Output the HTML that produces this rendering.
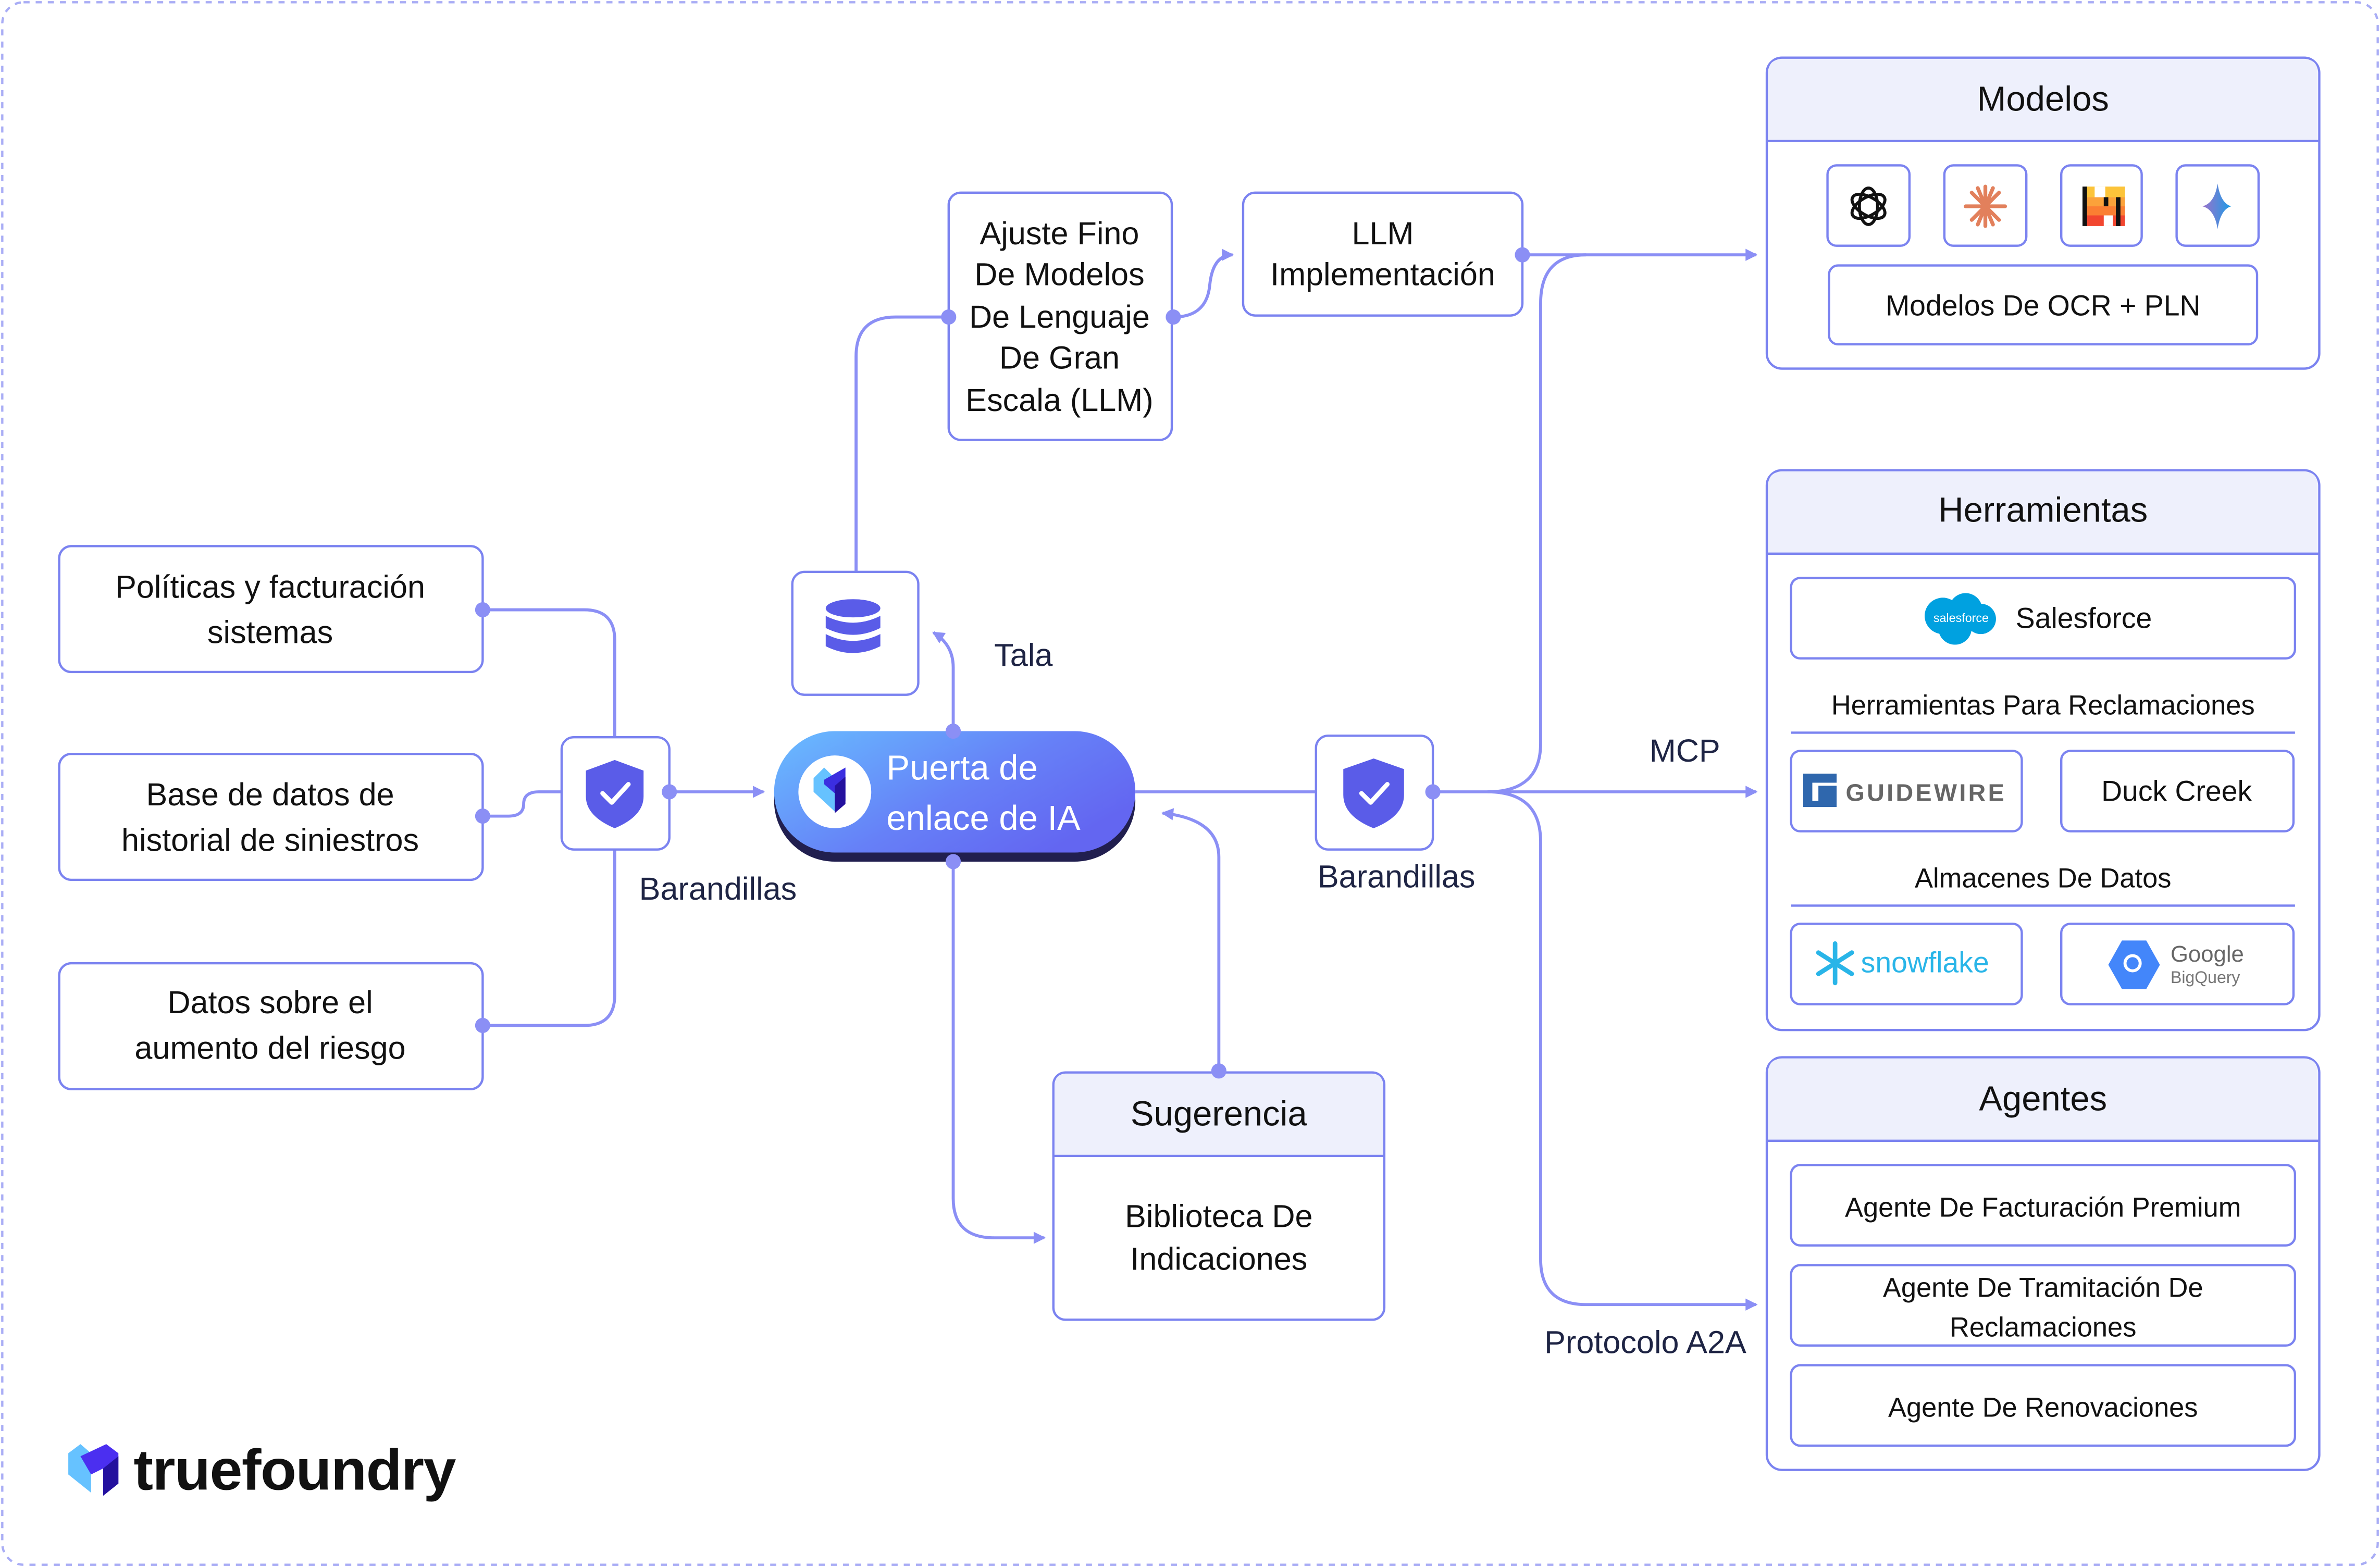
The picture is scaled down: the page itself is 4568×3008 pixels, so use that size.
<!DOCTYPE html>
<html><head><meta charset="utf-8"><style>
html,body{margin:0;padding:0;background:#fff;}
svg{display:block;}
text{font-family:"Liberation Sans",sans-serif;fill:#111;}
</style></head><body>
<svg width="4568" height="3008" viewBox="0 0 1568 1033" preserveAspectRatio="none" xmlns="http://www.w3.org/2000/svg">
<defs>
<linearGradient id="gw" x1="0" y1="0" x2="1" y2="0.6">
<stop offset="0" stop-color="#68bdff"/><stop offset="0.6" stop-color="#6680f7"/><stop offset="1" stop-color="#6366f1"/></linearGradient>
<linearGradient id="gem" x1="0" y1="0" x2="1" y2="0"><stop offset="0" stop-color="#9b72cb"/><stop offset="1" stop-color="#1c9ce6"/></linearGradient>
<marker id="ar" viewBox="0 0 10 10" refX="8" refY="5" markerWidth="10" markerHeight="10" markerUnits="userSpaceOnUse" orient="auto"><path d="M1,1 L9,5 L1,9 Z" fill="#8b8ff5"/></marker>
</defs>
<rect x="1.5" y="1.5" width="1565" height="1030" rx="14" fill="#fff" stroke="#a9adf5" stroke-width="1.5" stroke-dasharray="4 4"/>

<g fill="none" stroke="#8b8ff5" stroke-width="2">
<path d="M318,402 H385 Q405,402 405,422 V486"/>
<path d="M318,538 H335 Q345,538 345,530 Q345,522 355,522 H370"/>
<path d="M318,676 H385 Q405,676 405,656 V560"/>
<path d="M441,522 H503" marker-end="url(#ar)"/>
<path d="M564,377 V235 Q564,209 590,209 H625"/>
<path d="M628,482 V440 Q628,425 615,417" marker-end="url(#ar)"/>
<path d="M773,209 Q795,209 797,188 Q799,168 812,168" marker-end="url(#ar)"/>
<path d="M1003,168 H1157" marker-end="url(#ar)"/>
<path d="M748,522 H867"/>
<path d="M944,522 H1157" marker-end="url(#ar)"/>
<path d="M980,522 Q1015,522 1015,490 V200 Q1015,168 1045,168"/>
<path d="M980,522 Q1015,522 1015,555 V830 Q1015,860 1045,860 H1157" marker-end="url(#ar)"/>
<path d="M628,568 V790 Q628,816 655,816 H688" marker-end="url(#ar)"/>
<path d="M803,706 V565 Q803,540 766,536" marker-end="url(#ar)"/>
</g>

<g fill="#fff" stroke="#7b83f0" stroke-width="1.5">
<rect x="39" y="360" width="279" height="83" rx="8"/>
<rect x="39" y="497" width="279" height="83" rx="8"/>
<rect x="39" y="635" width="279" height="83" rx="8"/>
<rect x="370" y="486" width="71" height="74" rx="8"/>
<rect x="867" y="485" width="77" height="75" rx="8"/>
<rect x="522" y="377" width="83" height="81" rx="8"/>
<rect x="625" y="127" width="147" height="163" rx="8"/>
<rect x="819" y="127" width="184" height="81" rx="8"/>
</g>
<g font-size="21" text-anchor="middle">
<text x="178" y="394">Políticas y facturación</text><text x="178" y="424">sistemas</text>
<text x="178" y="531">Base de datos de</text><text x="178" y="561">historial de siniestros</text>
<text x="178" y="668">Datos sobre el</text><text x="178" y="698">aumento del riesgo</text>
<text x="698" y="161">Ajuste Fino</text><text x="698" y="188">De Modelos</text><text x="698" y="216">De Lenguaje</text><text x="698" y="243">De Gran</text><text x="698" y="271">Escala (LLM)</text>
<text x="911" y="161">LLM</text><text x="911" y="188">Implementación</text>
</g>
<g font-size="21">
<text x="473" y="593" text-anchor="middle" style="fill:#1e2444">Barandillas</text>
<text x="920" y="585" text-anchor="middle" style="fill:#1e2444">Barandillas</text>
<text x="655" y="439" style="fill:#1e2444">Tala</text>
<text x="1110" y="502" text-anchor="middle" style="fill:#1e2444">MCP</text>
<text x="1084" y="892" text-anchor="middle" style="fill:#1e2444">Protocolo A2A</text>
</g>
<!-- shields -->
<g fill="#5a5ce8">
<path d="M405,501 L424,508 V525 Q424,538 405,546 Q386,538 386,525 V508 Z"/>
<path d="M905,500 L925,507 V524 Q925,538 905,546 Q885,538 885,524 V507 Z"/>
</g>
<g fill="none" stroke="#fff" stroke-width="3" stroke-linecap="round" stroke-linejoin="round">
<path d="M397,523 L403,529 L414,517"/><path d="M897,523 L903,529 L914,517"/>
</g>
<!-- db -->
<g fill="#5a5ce8">
<ellipse cx="562" cy="401" rx="18" ry="6"/>
<path d="M544,406 Q562,415 580,406 V414 Q562,423 544,414 Z"/>
<path d="M544,418 Q562,427 580,418 V426 Q562,435 544,426 Z"/>
</g>
<!-- gateway -->
<rect x="510" y="488" width="238" height="80" rx="40" fill="#211f4f"/>
<rect x="510" y="482" width="238" height="80" rx="40" fill="url(#gw)"/>
<circle cx="550" cy="522" r="24" fill="#fff"/>
<path d="M536,513 L543,506 L550,513 L550,535 L536,522 Z" fill="#66c2ff"/>
<path d="M543,514 L557,506 L557,528 L550,535 L550,523 L543,517 Z" fill="#3b2ee0"/>
<path d="M550,518 L557,512 V530 L550,536Z" fill="#24119e"/>
<text x="584" y="514" font-size="23" style="fill:#fff">Puerta de</text>
<text x="584" y="547" font-size="23" style="fill:#fff">enlace de IA</text>

<!-- dots (on top) -->
<g fill="#8b8ff5">
<circle cx="318" cy="402" r="5"/><circle cx="318" cy="538" r="5"/><circle cx="318" cy="676" r="5"/>
<circle cx="441" cy="522" r="5"/><circle cx="625" cy="209" r="5"/><circle cx="773" cy="209" r="5"/>
<circle cx="1003" cy="168" r="5"/><circle cx="944" cy="522" r="5"/><circle cx="628" cy="482" r="5"/>
<circle cx="628" cy="568" r="5"/>
</g>

<!-- sugerencia -->
<rect x="694" y="707" width="218" height="163" rx="8" fill="#fff" stroke="#7b83f0" stroke-width="1.5"/>
<path d="M695,762 V715 Q695,708 702,708 H904 Q911,708 911,715 V762 Z" fill="#eef0fc"/>
<line x1="694" y1="762" x2="912" y2="762" stroke="#7b83f0" stroke-width="1.5"/>
<circle cx="803" cy="706" r="5" fill="#8b8ff5"/>
<text x="803" y="742" font-size="23" text-anchor="middle">Sugerencia</text>
<text x="803" y="809" font-size="21" text-anchor="middle">Biblioteca De</text>
<text x="803" y="837" font-size="21" text-anchor="middle">Indicaciones</text>

<!-- panels -->
<g stroke="#7b83f0" stroke-width="1.5">
<rect x="1164" y="38" width="364" height="205" rx="10" fill="#fff"/>
<path d="M1165,93 V48 Q1165,39 1174,39 H1518 Q1527,39 1527,48 V93 Z" fill="#eef0fc" stroke="none"/>
<line x1="1164" y1="93" x2="1528" y2="93"/>
<rect x="1164" y="310" width="364" height="369" rx="10" fill="#fff"/>
<path d="M1165,365 V320 Q1165,311 1174,311 H1518 Q1527,311 1527,320 V365 Z" fill="#eef0fc" stroke="none"/>
<line x1="1164" y1="365" x2="1528" y2="365"/>
<rect x="1164" y="697" width="364" height="272" rx="10" fill="#fff"/>
<path d="M1165,752 V707 Q1165,698 1174,698 H1518 Q1527,698 1527,707 V752 Z" fill="#eef0fc" stroke="none"/>
<line x1="1164" y1="752" x2="1528" y2="752"/>
<g fill="#fff">
<rect x="1204" y="109" width="54" height="53" rx="6"/><rect x="1281" y="109" width="54" height="53" rx="6"/>
<rect x="1358" y="109" width="53" height="53" rx="6"/><rect x="1434" y="109" width="54" height="53" rx="6"/>
<rect x="1205" y="175" width="282" height="52" rx="6"/>
<rect x="1180" y="381" width="332" height="53" rx="6"/>
<rect x="1180" y="495" width="152" height="53" rx="6"/><rect x="1358" y="495" width="153" height="53" rx="6"/>
<rect x="1180" y="609" width="152" height="53" rx="6"/><rect x="1358" y="609" width="153" height="53" rx="6"/>
<rect x="1180" y="768" width="332" height="53" rx="6"/><rect x="1180" y="834" width="332" height="53" rx="6"/><rect x="1180" y="900" width="332" height="53" rx="6"/>
</g>
<line x1="1180" y1="483" x2="1512" y2="483"/><line x1="1180" y1="597" x2="1512" y2="597"/>
</g>
<g text-anchor="middle">
<text x="1346" y="73" font-size="23">Modelos</text>
<text x="1346" y="344" font-size="23">Herramientas</text>
<text x="1346" y="732" font-size="23">Agentes</text>
<text x="1346" y="208" font-size="19">Modelos De OCR + PLN</text>
<text x="1346" y="471" font-size="18">Herramientas Para Reclamaciones</text>
<text x="1346" y="585" font-size="18">Almacenes De Datos</text>
<text x="1434" y="528" font-size="19">Duck Creek</text>
<text x="1346" y="802" font-size="18">Agente De Facturación Premium</text>
<text x="1346" y="855" font-size="18">Agente De Tramitación De</text>
<text x="1346" y="881" font-size="18">Reclamaciones</text>
<text x="1346" y="934" font-size="18">Agente De Renovaciones</text>
</g>
<!-- model icons -->
<g fill="none" stroke="#111" stroke-width="2">
<ellipse cx="1231" cy="136" rx="6" ry="12"/><ellipse cx="1231" cy="136" rx="6" ry="12" transform="rotate(60 1231 136)"/><ellipse cx="1231" cy="136" rx="6" ry="12" transform="rotate(120 1231 136)"/>
</g>
<g stroke="#e2805c" stroke-width="2.5" stroke-linecap="round">
<line x1="1308" y1="123" x2="1308" y2="149"/><line x1="1295" y1="136" x2="1321" y2="136"/><line x1="1299" y1="127" x2="1317" y2="145"/><line x1="1317" y1="127" x2="1299" y2="145"/>
<line x1="1303" y1="124" x2="1313" y2="148"/><line x1="1313" y1="124" x2="1303" y2="148"/>
</g>
<rect x="1374" y="123" width="26" height="7" fill="#fcc43a"/><rect x="1374" y="130" width="26" height="6" fill="#fba23a"/>
<rect x="1374" y="136" width="26" height="6" fill="#fb7f32"/><rect x="1374" y="142" width="26" height="7" fill="#f2462f"/>
<rect x="1380" y="123" width="7" height="7" fill="#fff"/><rect x="1386" y="142" width="6" height="7" fill="#fff"/>
<rect x="1372" y="123" width="3" height="26" fill="#111"/><rect x="1394" y="130" width="3" height="19" fill="#111"/><rect x="1386" y="130" width="3" height="6" fill="#111"/>
<path d="M1461,121 Q1463,134 1470,136 Q1463,138 1461,151 Q1459,138 1451,136 Q1459,134 1461,121Z" fill="url(#gem)"/>
<!-- salesforce -->
<g fill="#00a1e0"><circle cx="1280" cy="406" r="12"/><circle cx="1295" cy="402" r="11"/><circle cx="1305" cy="408" r="10"/><circle cx="1288" cy="414" r="11"/></g>
<text x="1292" y="410" font-size="8" text-anchor="middle" style="fill:#fff">salesforce</text>
<text x="1328" y="414" font-size="19">Salesforce</text>
<!-- guidewire -->
<path d="M1188,510 H1210 V516 H1194 V528 H1198 V518 H1210 V532 H1188 Z" fill="#2f67ad"/>
<text x="1216" y="528" font-size="16" font-weight="bold" letter-spacing="1.5" style="fill:#666">GUIDEWIRE</text>
<!-- snowflake -->
<g stroke="#29b5e8" stroke-width="3" stroke-linecap="round">
<line x1="1209" y1="622" x2="1209" y2="648"/><line x1="1198" y1="628" x2="1220" y2="642"/><line x1="1198" y1="642" x2="1220" y2="628"/>
</g>
<text x="1226" y="641" font-size="19" style="fill:#29b5e8">snowflake</text>
<!-- bigquery -->
<path d="M1398,620 H1414 L1423,636 L1414,652 H1398 L1389,636 Z" fill="#4386fa"/>
<circle cx="1405" cy="635" r="5" fill="none" stroke="#fff" stroke-width="2"/>
<text x="1430" y="634" font-size="15" style="fill:#666">Google</text>
<text x="1430" y="648" font-size="11" style="fill:#777">BigQuery</text>
<!-- truefoundry logo -->
<path d="M45,958 L53,952 L60,958 V984 L45,972 Z" fill="#66c2ff"/>
<path d="M53,960 L70,952 L78,958 V978 L68,986 V968 L60,972 Z" fill="#4b2ff0"/>
<path d="M68,968 L78,960 V978 L68,986 Z" fill="#24119e"/>
<text x="88" y="982" font-size="38" font-weight="bold" letter-spacing="-0.5" textLength="212" lengthAdjust="spacingAndGlyphs">truefoundry</text>
</svg>
</body></html>
